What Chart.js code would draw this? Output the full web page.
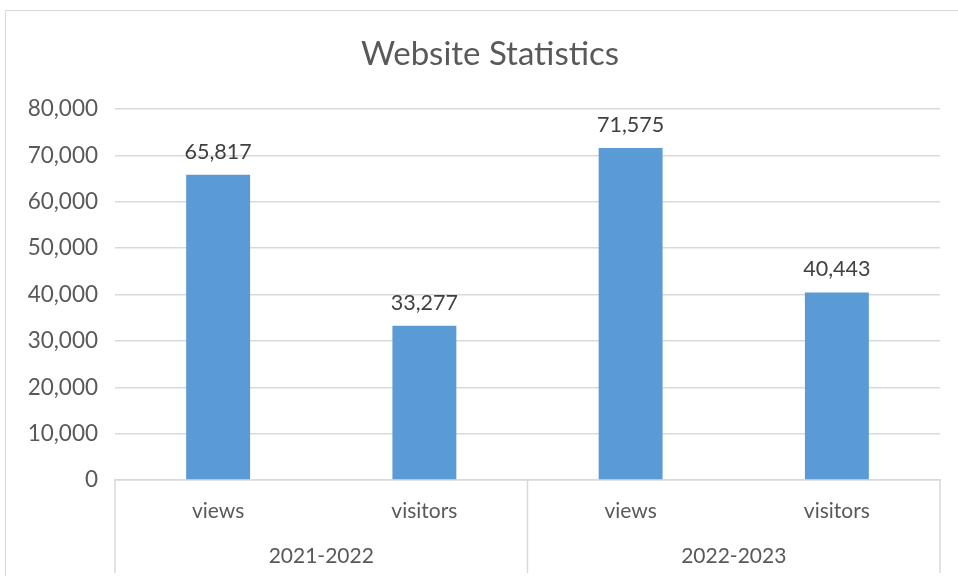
<!DOCTYPE html>
<html>
<head>
<meta charset="utf-8">
<script src="https://cdn.jsdelivr.net/npm/chart.js@4"></script>
<style>
  html, body { margin: 0; padding: 0; background: #ffffff; overflow: hidden; }
  #frame { position: absolute; left: 5px; top: 10px; width: 1100px; height: 566px; border-left: 1.5px solid #d9d9d9; border-top: 1.5px solid #d9d9d9; box-sizing: border-box; }
  #wrap { position: absolute; left: 0; top: 0; width: 958px; height: 581px; }
</style>
</head>
<body>
<div id="frame"></div>
<div id="wrap"><canvas id="c" width="958" height="581"></canvas></div>
<script>
const categories = ["views", "visitors", "views", "visitors"];
const groups = ["2021-2022", "2022-2023"];
const values = [65817, 33277, 71575, 40443];
const yTicks = [0, 10000, 20000, 30000, 40000, 50000, 60000, 70000, 80000];

const FONT = "Lato";
const fmt = v => v.toLocaleString("en-US");

const groupPlugin = {
  id: "groupAxis",
  afterLayout(chart) {
    // centre the title over the whole chart box like the reference
    const t = chart.titleBlock;
    if (t) { t.left += 20; t.right += 20; }
  },
  afterDraw(chart) {
    const { ctx, chartArea, scales } = chart;
    const x = scales.x;
    const b = chartArea.bottom;
    const mid = (x.getPixelForValue(1) + x.getPixelForValue(2)) / 2;
    ctx.save();
    ctx.strokeStyle = "#d9d9d9";
    ctx.lineWidth = 1.5;
    [chartArea.left, mid, chartArea.right].forEach(px => {
      ctx.beginPath();
      ctx.moveTo(px, b);
      ctx.lineTo(px, b + 93);
      ctx.stroke();
    });
    // data labels
    const meta = chart.getDatasetMeta(0);
    ctx.fillStyle = "#404040";
    ctx.font = "21.5px " + FONT;
    ctx.textAlign = "center";
    ctx.textBaseline = "alphabetic";
    meta.data.forEach((bar, i) => {
      ctx.fillText(fmt(values[i]), bar.x, bar.y - 16);
    });
    ctx.restore();
  }
};

new Chart(document.getElementById("c"), {
  type: "bar",
  data: {
    labels: categories,
    datasets: [{
      data: values,
      backgroundColor: "#5b9bd5",
      borderWidth: 0,
      barPercentage: 0.31,
      categoryPercentage: 1.0
    }]
  },
  options: {
    responsive: false,
    animation: false,
    devicePixelRatio: 1,
    layout: { padding: { left: 0, right: 18, top: 0, bottom: 0 } },
    plugins: {
      legend: { display: false },
      tooltip: { enabled: false },
      title: {
        display: true,
        text: "Website Statistics",
        color: "#595959",
        font: { family: FONT, size: 33, weight: "normal", lineHeight: 1.2 },
        padding: { top: 35, bottom: 34.4 }
      }
    },
    scales: {
      y: {
        min: 0,
        max: 80000,
        afterBuildTicks: s => { s.ticks = yTicks.map(v => ({ value: v })); },
        afterFit: s => { s.width = 115; },
        border: { display: false },
        grid: { color: "#d9d9d9", lineWidth: 1.5, drawTicks: false },
        ticks: {
          color: "#595959",
          font: { family: FONT, size: 22.5 },
          padding: 17,
          callback: v => fmt(v)
        }
      },
      x: {
        position: "bottom",
        afterFit: s => { s.height = 47; },
        border: { display: true, color: "#d9d9d9", width: 1.5 },
        grid: { display: false, drawTicks: false },
        ticks: {
          color: "#595959",
          font: { family: FONT, size: 21 },
          padding: 19,
          maxRotation: 0
        }
      },
      x2: {
        type: "category",
        position: "bottom",
        labels: groups,
        offset: true,
        afterFit: s => { s.height = 54; },
        border: { display: false },
        grid: { display: false, drawTicks: false },
        ticks: {
          color: "#595959",
          font: { family: FONT, size: 21 },
          padding: 17,
          maxRotation: 0
        }
      }
    }
  },
  plugins: [groupPlugin]
});
</script>
</body>
</html>
